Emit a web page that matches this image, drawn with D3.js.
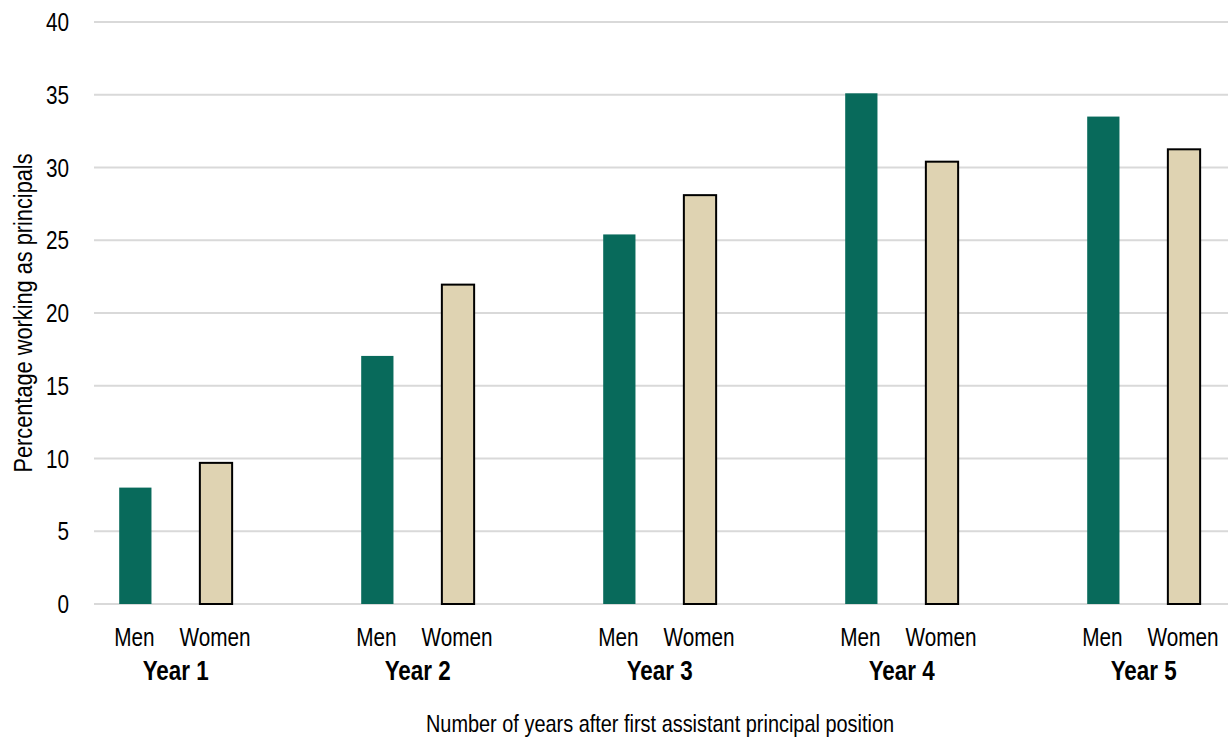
<!DOCTYPE html>
<html>
<head>
<meta charset="utf-8">
<script src="https://cdn.jsdelivr.net/npm/d3@7"></script>
<style>
  body { margin: 0; background: #fff; }
  text { font-family: "Liberation Sans", Arial, sans-serif; fill: #000; }
</style>
</head>
<body>
<div id="chart"></div>
<script>
// data
const years = ["Year 1", "Year 2", "Year 3", "Year 4", "Year 5"];
const genders = ["Men", "Women"];
const menValues = [8.0, 17.05, 25.4, 35.1, 33.5];
const womenValues = [9.7, 21.95, 28.1, 30.4, 31.25];
const yTicks = [0, 5, 10, 15, 20, 25, 30, 35, 40];

const width = 1228;
const height = 747;
const left = 94;
const squeeze = 0.83; // the source font is a narrow one

const rows = years.map((y, i) => ({
	year: y,
	values: [
		{ g: "Men", v: menValues[i] },
		{ g: "Women", v: womenValues[i] }
	]
}));

const svg = d3.select("#chart")
	.append("svg")
		.attr("width", width)
		.attr("height", height);

const y = d3.scaleLinear()
	.domain([0, 40])
	.range([604, 22]);

// each year takes three slots: Men, Women, empty gap
const x0 = d3.scaleBand()
	.domain(years)
	.range([95, 95 + 5 * 242]);

const x1 = d3.scaleBand()
	.domain(genders.concat(["gap"]))
	.range([0, x0.bandwidth()]);

const barW = x1.bandwidth() * 0.4;

function narrowText(sel, x, yy) {
	return sel.attr("transform", `translate(${x},${yy}) scale(${squeeze},1)`);
}

// gridlines
svg.append("g")
	.attr("class", "grid")
	.selectAll("line")
	.data(yTicks)
	.enter()
	.append("line")
		.attr("x1", left)
		.attr("x2", width)
		.attr("y1", (d) => y(d))
		.attr("y2", (d) => y(d))
		.attr("stroke", "#d9d9d9")
		.attr("stroke-width", 2);

// y tick labels
svg.append("g")
	.selectAll("text")
	.data(yTicks)
	.enter()
	.append("text")
		.text((d) => d)
		.attr("text-anchor", "end")
		.attr("dy", "0.36em")
		.style("font-size", "25px")
		.each(function (d) { narrowText(d3.select(this), 69, y(d)); });

// bars
const groups = svg.append("g")
	.selectAll(".year")
	.data(rows)
	.enter()
	.append("g")
		.attr("class", "year")
		.attr("transform", (d) => `translate(${x0(d.year)},0)`);

groups.selectAll("rect")
	.data((d) => d.values)
	.enter()
	.append("rect")
		.attr("x", (d) => x1(d.g) + (x1.bandwidth() - barW) / 2)
		.attr("y", (d) => y(d.v))
		.attr("width", barW)
		.attr("height", (d) => y(0) - y(d.v))
		.attr("fill", (d) => d.g == "Men" ? "#086a5b" : "#dfd3b2")
		.attr("stroke", (d) => d.g == "Men" ? "none" : "#000")
		.attr("stroke-width", 2);

// category labels
groups.selectAll(".gender")
	.data((d) => d.values)
	.enter()
	.append("text")
		.attr("class", "gender")
		.text((d) => d.g)
		.attr("text-anchor", "middle")
		.style("font-size", "25px")
		.each(function (d) { narrowText(d3.select(this), x1(d.g) + x1.bandwidth() / 2 - 1, 646); });

groups.append("text")
	.text((d) => d.year)
	.attr("text-anchor", "middle")
	.style("font-size", "27px")
	.style("font-weight", "bold")
	.each(function () { narrowText(d3.select(this), x1.step(), 680); });

// axis titles
svg.append("text")
	.text("Number of years after first assistant principal position")
	.attr("text-anchor", "middle")
	.style("font-size", "24px")
	.attr("transform", `translate(660,732) scale(${squeeze},1)`);

svg.append("text")
	.text("Percentage working as principals")
	.attr("text-anchor", "middle")
	.style("font-size", "25px")
	.attr("transform", `translate(32,313) rotate(-90) scale(0.87,1)`);
</script>
</body>
</html>
